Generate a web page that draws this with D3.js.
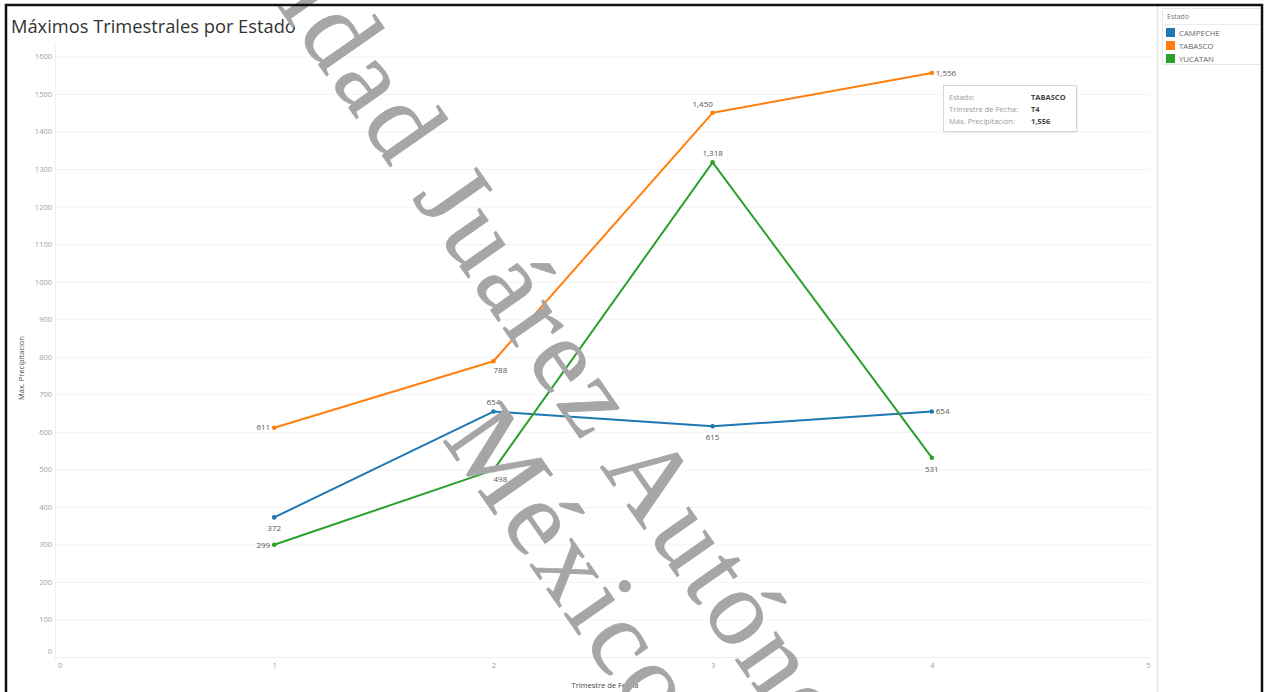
<!DOCTYPE html>
<html>
<head>
<meta charset="utf-8">
<script src="https://cdn.jsdelivr.net/npm/d3@7"></script>
<style>
  body { margin: 0; background: #fff; }
  svg { display: block; }
</style>
</head>
<body>
<svg id="chart" width="1265" height="692"></svg>
<script>
// Quarterly maximum precipitation per state
const quarters = [1, 2, 3, 4];
const states = ["CAMPECHE", "TABASCO", "YUCATAN"];
const campeche = [372, 654, 615, 654];
const tabasco = [611, 788, 1450, 1556];
const yucatan = [299, 498, 1318, 531];
const yTickValues = [0, 100, 200, 300, 400, 500, 600, 700, 800, 900, 1000, 1100, 1200, 1300, 1400, 1500, 1600];
const xTickValues = [0, 1, 2, 3, 4, 5];
const stateColors = ["#1f77b4", "#ff7f0e", "#2ca02c"];
// where each value label sits relative to its point
const labelSides = [
  ["below", "above", "below", "right"],
  ["left", "belowR", "aboveL", "right"],
  ["left", "belowR", "above", "below"]
];

const seriesValues = [campeche, tabasco, yucatan];
const series = states.map((s, i) => ({
  name: s,
  color: stateColors[i],
  points: quarters.map((q, j) => ({ q, v: seriesValues[i][j], side: labelSides[i][j] }))
}));

const svg = d3.select("#chart");
const uiFont = "'Open Sans', 'Noto Sans', sans-serif";
const fmt = d3.format(",");

const x = d3.scaleLinear().domain([0, 5]).range([55, 1151]);
const y = d3.scaleLinear().domain([0, 1600]).range([657, 56.5]);

// title
svg.append("text")
  .attr("x", 11).attr("y", 33)
  .attr("font-family", uiFont).attr("font-size", 18.3)
  .attr("fill", "#333")
  .text("Máximos Trimestrales por Estado");

// pane boundary
svg.append("line")
  .attr("x1", 55.5).attr("x2", 55.5).attr("y1", 44).attr("y2", 660)
  .attr("stroke", "#f0f0f0");

// horizontal gridlines + y axis labels
const yAxis = d3.axisLeft(y).tickValues(yTickValues).tickSize(0).tickPadding(0).tickFormat(d3.format("d"));
const gY = svg.append("g").attr("transform", "translate(52,0)").call(yAxis);
gY.select(".domain").remove();
gY.selectAll("text")
  .attr("font-family", uiFont).attr("font-size", 7.5).attr("fill", "#a0a0a0")
  .attr("dy", d => d === 0 ? "-0.5em" : "0.32em");

const grid = d3.axisLeft(y).tickValues(yTickValues).tickSize(-(1151 - 56)).tickFormat("");
const gGrid = svg.append("g").attr("transform", "translate(56,0)").call(grid);
gGrid.select(".domain").remove();
gGrid.selectAll("line").attr("stroke", d => d === 0 ? "#ececec" : "#f3f3f3");

// x axis labels
const xAxis = d3.axisBottom(x).tickValues(xTickValues).tickSize(0).tickPadding(0).tickFormat(d3.format("d"));
const gX = svg.append("g").attr("transform", "translate(0,663)").call(xAxis);
gX.select(".domain").remove();
gX.selectAll("text")
  .attr("font-family", uiFont).attr("font-size", 7.5).attr("fill", "#a0a0a0")
  .attr("dx", d => d === 0 ? 5 : d === 5 ? -3 : 0);

// axis titles
svg.append("text")
  .attr("x", x(2.5) + 2).attr("y", 688)
  .attr("text-anchor", "middle")
  .attr("font-family", uiFont).attr("font-size", 7.5).attr("fill", "#444")
  .text("Trimestre de Fecha");
svg.append("text")
  .attr("transform", `translate(24,${y(770)}) rotate(-90)`)
  .attr("text-anchor", "middle")
  .attr("font-family", uiFont).attr("font-size", 7.5).attr("fill", "#444")
  .text("Máx. Precipitacion");

// lines
const line = d3.line().x(d => x(d.q)).y(d => y(d.v));
const gS = svg.append("g").selectAll("g").data(series).join("g");
gS.append("path")
  .attr("d", d => line(d.points))
  .attr("fill", "none")
  .attr("stroke", d => d.color)
  .attr("stroke-width", 2)
  .attr("stroke-linejoin", "round");
gS.selectAll("circle").data(d => d.points.map(p => ({ ...p, color: d.color }))).join("circle")
  .attr("cx", d => x(d.q)).attr("cy", d => y(d.v))
  .attr("r", 2.3).attr("fill", d => d.color);

// value labels
const offsets = {
  below: [0, 11, "middle"], belowR: [7, 9, "middle"],
  above: [0, -9, "middle"], aboveL: [-10, -9, "middle"],
  left: [-4, 0, "end"], right: [4, 0, "start"]
};
gS.selectAll("text.val").data(d => d.points).join("text")
  .attr("class", "val")
  .attr("x", d => x(d.q) + offsets[d.side][0])
  .attr("y", d => y(d.v) + offsets[d.side][1])
  .attr("dy", "0.35em")
  .attr("text-anchor", d => offsets[d.side][2])
  .attr("font-family", uiFont).attr("font-size", 8).attr("fill", "#555")
  .text(d => fmt(d.v));

// tooltip for TABASCO, quarter 4
const tipState = 1, tipQ = 3;
const tip = svg.append("g").attr("transform", "translate(943,85)");
tip.append("rect").attr("x", 1.5).attr("y", 1.5).attr("width", 133).attr("height", 46)
  .attr("fill", "#e4e4e4");
tip.append("rect").attr("x", 0.5).attr("y", 0.5).attr("width", 133).attr("height", 46)
  .attr("fill", "#fff").attr("stroke", "#d6d6d6");
const tipRows = [
  ["Estado:", states[tipState]],
  ["Trimestre de Fecha:", "T" + quarters[tipQ]],
  ["Máx. Precipitacion:", fmt(seriesValues[tipState][tipQ])]
];
tipRows.forEach((r, i) => {
  tip.append("text").attr("x", 6).attr("y", 15 + i * 12)
    .attr("font-family", uiFont).attr("font-size", 7.5).attr("fill", "#9a9a9a").text(r[0]);
  tip.append("text").attr("x", 88).attr("y", 15 + i * 12)
    .attr("font-family", uiFont).attr("font-size", 7.5).attr("font-weight", "bold").attr("fill", "#444").text(r[1]);
});

// legend panel
svg.append("line").attr("x1", 1157.5).attr("x2", 1157.5).attr("y1", 6).attr("y2", 692)
  .attr("stroke", "#e2e2e2").attr("stroke-width", 1.5);
const lg = svg.append("g").attr("transform", "translate(1162,8)");
lg.append("rect").attr("x", 0.5).attr("y", 0.5).attr("width", 100).attr("height", 56)
  .attr("fill", "#fff").attr("stroke", "#e8e8e8");
lg.append("line").attr("x1", 0).attr("x2", 100).attr("y1", 16.5).attr("y2", 16.5).attr("stroke", "#ececec");
lg.append("text").attr("x", 5).attr("y", 11)
  .attr("font-family", uiFont).attr("font-size", 7).attr("fill", "#777").text("Estado");
const li = lg.selectAll("g.item").data(series).join("g").attr("class", "item")
  .attr("transform", (d, i) => `translate(4,${20 + i * 13})`);
li.append("rect").attr("width", 9).attr("height", 9).attr("fill", d => d.color);
li.append("text").attr("x", 13).attr("y", 7.5)
  .attr("font-family", uiFont).attr("font-size", 7.8).attr("fill", "#666").text(d => d.name);

// watermark
const wm = svg.append("g")
  .attr("transform", "translate(661,491) rotate(55)")
  .attr("font-family", "'Liberation Serif', 'DejaVu Serif', serif")
  .attr("font-size", 108)
  .attr("letter-spacing", 4.5)
  .attr("fill", "#a6a6a6")
  .attr("stroke", "#a6a6a6")
  .attr("stroke-width", 0.8)
  .attr("text-anchor", "middle");
wm.append("text").attr("x", 0).attr("y", 36).text("Universidad Juárez Autónoma de Tabasco");
wm.append("text").attr("x", 10).attr("y", 150).text("México");

// outer frame
svg.append("rect").attr("x", 6).attr("y", 5).attr("width", 1256).attr("height", 700)
  .attr("fill", "none").attr("stroke", "#111").attr("stroke-width", 2.5);
</script>
</body>
</html>
